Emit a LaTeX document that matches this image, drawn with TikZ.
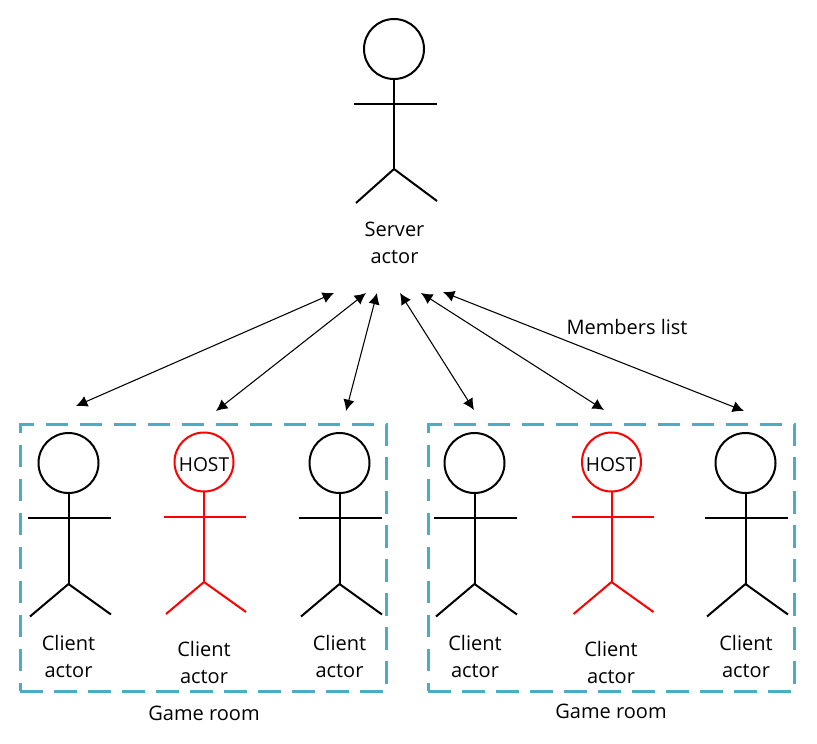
\documentclass[tikz,border=0pt]{standalone}
\usepackage{fontspec}
\setmainfont{Open Sans}
\usetikzlibrary{arrows.meta}
\definecolor{roomblue}{HTML}{4BACC6}
\tikzset{
  x=0.75pt,y=-0.75pt,
  limb/.style={line width=1.5pt,line join=round},
  room/.style={draw=roomblue,line width=2.1pt,dash pattern=on 17pt off 8.5pt,minimum width=275pt,minimum height=200pt,anchor=center,inner sep=0pt},
  lbl/.style={font=\fontsize{15}{20.25}\selectfont,align=center,inner sep=0pt,text=black},
  hosttext/.style={font=\fontsize{14.4}{18}\selectfont,inner sep=0pt,text=black},
  link/.style={line width=0.8pt,{Latex[length=8.5pt,width=8.5pt]}-{Latex[length=8.5pt,width=8.5pt]}},
  pics/stick/.style n args={9}{code={
    % #1 head r, #2 arm y, #3 hip y, #4 left foot y, #5 right foot y, #6 arm left, #7 arm right, #8 foot left, #9 foot right
    \draw[limb] (0,0) circle[radius=#1];
    \draw[limb] (0,#1) -- (0,#3);
    \draw[limb] (-#6,#2) -- (#7,#2);
    \draw[limb] (-#8,#4) -- (0,#3) -- (#9,#5);
  }}
}
\newcommand{\clientfig}[3]{\pic[black] at (#1,463) {stick={30}{55}{121}{153.5}{151.5}{40.5}{42.5}{38.5}{42.5}}; \node[lbl] (c#2) at (#3,656.5) {Client\\actor};}
\newcommand{\hostfig}[3]{\pic[red] at (#1,462) {stick={29.5}{55}{120}{152}{150}{40}{42}{38}{42}}; \node[lbl] (h#2) at (#3,662) {Client\\actor}; \node[hosttext] (t#2) at (#3,465) {HOST};}
\begin{document}
\begin{tikzpicture}
\useasboundingbox (0,0) rectangle (817,743);
\pic[black] at (394,49) {stick={30}{55}{120}{154}{152}{40}{43}{38}{43}};
\node[lbl] (server) at (394.5,242.5) {Server\\actor};

\node[room] (roomL) at (203.5,558) {};
\node[room] (roomR) at (611.5,558) {};
\node[lbl] (labelL) at (204,713) {Game room};
\node[lbl] (labelR) at (611,711) {Game room};

\clientfig{68.5}{1}{68.5}
\hostfig{204}{1}{204}
\clientfig{339.5}{2}{339.5}
\clientfig{474.5}{3}{475}
\hostfig{611.5}{2}{611}
\clientfig{745.5}{4}{746}

\node[lbl] (members) at (627,327) {Members list};

\coordinate (a1) at (334,293); \coordinate (b1) at (76,406);
\coordinate (a2) at (366,293); \coordinate (b2) at (216,411);
\coordinate (a3) at (377,293); \coordinate (b3) at (346,411);
\coordinate (a4) at (400,293); \coordinate (b4) at (474,410);
\coordinate (a5) at (421,293); \coordinate (b5) at (604,410);
\coordinate (a6) at (443,292); \coordinate (b6) at (744,411);
\foreach \i in {1,...,6} \draw[link] (a\i) -- (b\i);
\end{tikzpicture}
\end{document}
